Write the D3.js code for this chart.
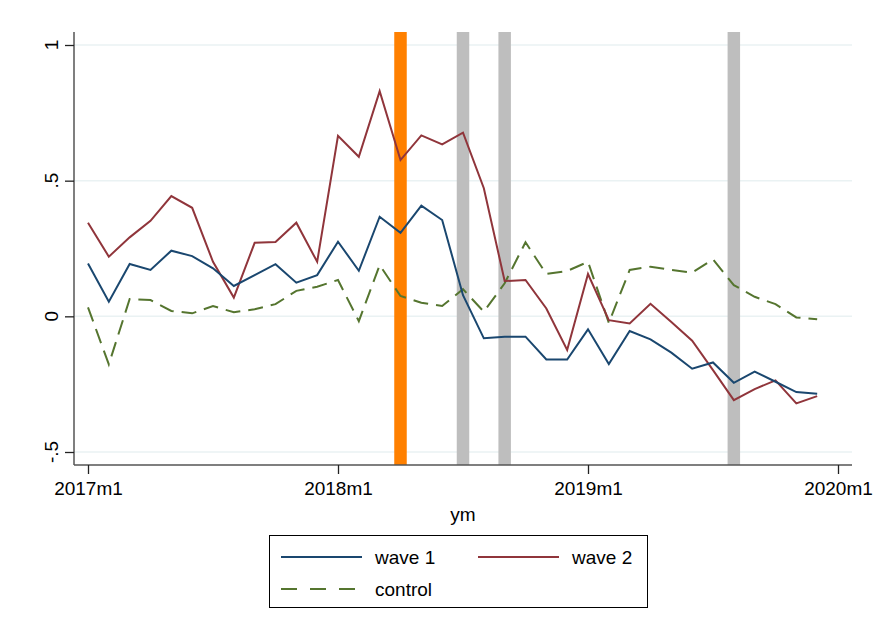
<!DOCTYPE html>
<html>
<head>
<meta charset="utf-8">
<script src="https://cdn.jsdelivr.net/npm/d3@7"></script>
<style>
  body { margin: 0; background: #fff; }
  svg { font-family: "Liberation Sans", Arial, sans-serif; }
</style>
</head>
<body>
<script>
// months since 2017m1 (0 = 2017m1 ... 35 = 2019m12)
const months = d3.range(36);

const wave1 = [0.195, 0.054, 0.193, 0.171, 0.242, 0.222, 0.177, 0.112, 0.152, 0.192, 0.124, 0.152,
  0.275, 0.168, 0.367, 0.308, 0.408, 0.355, 0.078, -0.081, -0.075, -0.075, -0.159, -0.159,
  -0.048, -0.176, -0.054, -0.085, -0.134, -0.193, -0.170, -0.245, -0.204, -0.241, -0.279, -0.285];

const wave2 = [0.345, 0.220, 0.291, 0.352, 0.443, 0.400, 0.201, 0.069, 0.271, 0.274, 0.345, 0.201,
  0.665, 0.588, 0.830, 0.576, 0.667, 0.634, 0.677, 0.472, 0.130, 0.134, 0.029, -0.124,
  0.156, -0.014, -0.026, 0.046, -0.021, -0.090, -0.198, -0.309, -0.268, -0.236, -0.321, -0.294];

const control = [0.033, -0.177, 0.064, 0.060, 0.020, 0.011, 0.038, 0.015, 0.026, 0.045, 0.094, 0.109,
  0.134, -0.018, 0.189, 0.075, 0.050, 0.038, 0.100, 0.017, 0.122, 0.273, 0.156, 0.167,
  0.201, -0.024, 0.171, 0.183, 0.171, 0.161, 0.210, 0.115, 0.072, 0.045, -0.004, -0.011];

// event markers (month index)
const orangeEvents = [15];        // 2018m4
const grayEvents = [18, 20, 31];  // 2018m7, 2018m9, 2019m8

const xTicks = [0, 12, 24, 36];
const xTickLabels = ["2017m1", "2018m1", "2019m1", "2020m1"];
const yTicks = [-0.5, 0, 0.5, 1];
const yTickLabels = ["-.5", "0", ".5", "1"];

const width = 875, height = 633;
const plot = { left: 74, right: 852, top: 32, bottom: 465 };

const svg = d3.select("body").append("svg")
  .attr("width", width)
  .attr("height", height);

const x = d3.scaleLinear().domain([0, 36]).range([88, 838]);
const y = d3.scaleLinear().domain([-0.5, 1]).range([452, 45]);

// gridlines
svg.append("g")
  .selectAll("line")
  .data(yTicks)
  .enter().append("line")
  .attr("x1", plot.left).attr("x2", plot.right)
  .attr("y1", d => y(d)).attr("y2", d => y(d))
  .attr("stroke", "#eaf2f3")
  .attr("stroke-width", 1.5);

// event bars
const barW = 12.5;
svg.append("g")
  .selectAll("rect")
  .data(grayEvents)
  .enter().append("rect")
  .attr("x", d => x(d) - barW / 2)
  .attr("y", plot.top)
  .attr("width", barW)
  .attr("height", plot.bottom - plot.top)
  .attr("fill", "#bebebe");

svg.append("g")
  .selectAll("rect")
  .data(orangeEvents)
  .enter().append("rect")
  .attr("x", d => x(d) - barW / 2)
  .attr("y", plot.top)
  .attr("width", barW)
  .attr("height", plot.bottom - plot.top)
  .attr("fill", "#ff8000");

// lines
const series = [
  { name: "wave 1", values: wave1, color: "#1a476f", dash: null },
  { name: "wave 2", values: wave2, color: "#90353b", dash: null },
  { name: "control", values: control, color: "#55752f", dash: "15,8" }
];

const line = d3.line()
  .x((d, i) => x(months[i]))
  .y(d => y(d));

svg.append("g")
  .selectAll("path")
  .data([series[2], series[1], series[0]])
  .enter().append("path")
  .attr("d", d => line(d.values))
  .attr("fill", "none")
  .attr("stroke", d => d.color)
  .attr("stroke-width", 2)
  .attr("stroke-linejoin", "miter")
  .attr("stroke-dasharray", d => d.dash);

// axes lines
svg.append("line")
  .attr("x1", plot.left).attr("x2", plot.left)
  .attr("y1", plot.top).attr("y2", plot.bottom)
  .attr("stroke", "#555").attr("stroke-width", 1.5);
svg.append("line")
  .attr("x1", plot.left).attr("x2", plot.right)
  .attr("y1", plot.bottom).attr("y2", plot.bottom)
  .attr("stroke", "#555").attr("stroke-width", 1.5);

// y axis ticks
const yAxis = d3.axisLeft(y)
  .tickValues(yTicks)
  .tickSize(9)
  .tickFormat("");
const gy = svg.append("g")
  .attr("transform", `translate(${plot.left},0)`)
  .call(yAxis);
gy.select(".domain").remove();
gy.selectAll(".tick line").attr("stroke", "#222").attr("stroke-width", 1.3);

svg.append("g")
  .selectAll("text")
  .data(yTicks)
  .enter().append("text")
  .attr("transform", d => `translate(58,${y(d)}) rotate(-90)`)
  .attr("text-anchor", "middle")
  .attr("font-size", 19)
  .attr("fill", "#000")
  .text((d, i) => yTickLabels[i]);

// x axis ticks
const xAxis = d3.axisBottom(x)
  .tickValues(xTicks)
  .tickSize(9)
  .tickPadding(8)
  .tickFormat((d, i) => xTickLabels[i]);
const gx = svg.append("g")
  .attr("transform", `translate(0,${plot.bottom})`)
  .call(xAxis);
gx.select(".domain").remove();
gx.selectAll(".tick line").attr("stroke", "#222").attr("stroke-width", 1.3);
gx.selectAll(".tick text")
  .attr("font-size", 19)
  .attr("font-family", "Liberation Sans, Arial, sans-serif")
  .attr("fill", "#000");

// x title
svg.append("text")
  .attr("x", (plot.left + plot.right) / 2)
  .attr("y", 521)
  .attr("text-anchor", "middle")
  .attr("font-size", 19)
  .text("ym");

// legend
const legend = svg.append("g");
legend.append("rect")
  .attr("x", 269.5).attr("y", 535.5)
  .attr("width", 378).attr("height", 72)
  .attr("fill", "#fff")
  .attr("stroke", "#000")
  .attr("stroke-width", 1);

const legendPos = [
  { lx: 281, ty: 557 },
  { lx: 478, ty: 557 },
  { lx: 281, ty: 589 }
];

series.forEach((s, i) => {
  const p = legendPos[i];
  legend.append("line")
    .attr("x1", p.lx).attr("x2", p.lx + 81)
    .attr("y1", p.ty).attr("y2", p.ty)
    .attr("stroke", s.color)
    .attr("stroke-width", 2)
    .attr("stroke-dasharray", s.dash ? "16,13" : null);
  legend.append("text")
    .attr("x", p.lx + 94)
    .attr("y", p.ty + 7)
    .attr("font-size", 19)
    .text(s.name);
});
</script>
</body>
</html>
